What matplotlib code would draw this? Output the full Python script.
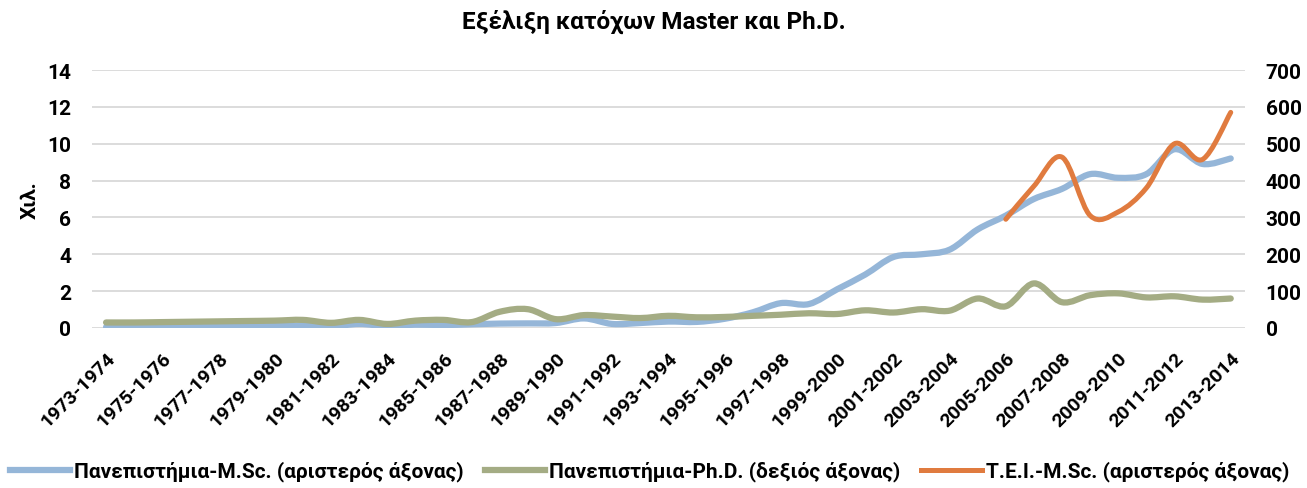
import numpy as np
import matplotlib
matplotlib.use("Agg")
import matplotlib.pyplot as plt
from matplotlib.path import Path
from matplotlib.patches import PathPatch
from matplotlib.lines import Line2D

plt.rcParams['font.family'] = ['Roboto', 'DejaVu Sans']
plt.rcParams['font.weight'] = 'bold'

years = [f"{y}-{y + 1}" for y in range(1973, 2014)]

# Πανεπιστήμια M.Sc. (χιλ., αριστερός άξονας)
msc_uni = [0.05, 0.06, 0.07, 0.08, 0.09, 0.10, 0.12, 0.13, 0.08, 0.22,
           0.10, 0.18, 0.16, 0.20, 0.24, 0.25, 0.27, 0.52, 0.22, 0.27,
           0.35, 0.33, 0.50, 0.85, 1.35, 1.30, 2.10, 2.90, 3.85, 4.00,
           4.25, 5.35, 6.10, 7.00, 7.55, 8.35, 8.15, 8.35, 9.70, 8.90, 9.20]
# Πανεπιστήμια Ph.D. (δεξιός άξονας)
phd_uni = [15, 15, 16, 17, 18, 19, 20, 22, 14, 22,
           11, 20, 22, 16, 44, 51, 24, 35, 31, 27,
           33, 29, 30, 33, 36, 40, 38, 48, 42, 51,
           47, 80, 59, 121, 70, 89, 94, 83, 86, 77, 80]
# Τ.Ε.Ι. M.Sc. (χιλ., αριστερός άξονας) - από 2005-2006
tei_msc = [np.nan] * 32 + [5.9, 7.7, 9.27, 6.1, 6.3, 7.6, 10.0, 9.15, 11.7]

labels = ["Πανεπιστήμια-M.Sc. (αριστερός άξονας)",
          "Πανεπιστήμια-Ph.D. (δεξιός άξονας)",
          "T.E.I.-M.Sc. (αριστερός άξονας)"]
colors = ["#95B6D8", "#A4AC84", "#E07B3F"]


def smooth_path(x, y):
    """Excel-like smoothed line: cubic Bezier through the points (Catmull-Rom tangents)."""
    x = np.asarray(x, float); y = np.asarray(y, float)
    ok = ~np.isnan(y); x, y = x[ok], y[ok]
    p = np.column_stack([x, y])
    ext = np.vstack([p[0], p, p[-1]])
    verts = [p[0]]; codes = [Path.MOVETO]
    for i in range(len(p) - 1):
        p0, p1, p2, p3 = ext[i], ext[i + 1], ext[i + 2], ext[i + 3]
        verts += [p1 + (p2 - p0) / 6, p2 - (p3 - p1) / 6, p2]
        codes += [Path.CURVE4] * 3
    return Path(verts, codes)


xs = np.arange(len(years))

fig = plt.figure(figsize=(13.07, 4.89), dpi=100)
ax = fig.add_axes([0.0704, 0.3272, 0.882, 0.5276])
ax2 = ax.twinx()

ax.add_patch(PathPatch(smooth_path(xs, msc_uni), fill=False, ec=colors[0], lw=4.5,
                       capstyle="round", joinstyle="round", zorder=3))
ax.add_patch(PathPatch(smooth_path(xs, tei_msc), fill=False, ec=colors[2], lw=3.6,
                       capstyle="round", joinstyle="round", zorder=4))
ax2.add_patch(PathPatch(smooth_path(xs, phd_uni), fill=False, ec=colors[1], lw=4.5,
                        capstyle="round", joinstyle="round", zorder=3))

ax.set_xlim(-0.5, len(years) - 0.5)
ax.set_ylim(0, 14)
ax2.set_ylim(0, 700)
ax.set_yticks(range(0, 15, 2))
ax2.set_yticks(range(0, 701, 100))
ax.set_xticks(xs[::2])
ax.set_xticklabels(years[::2], rotation=45, ha="right", rotation_mode="anchor",
                   fontsize=14, fontweight="bold")
for a in (ax, ax2):
    for s in a.spines.values():
        s.set_visible(False)
    a.tick_params(length=0, labelsize=15)
    for t in a.get_yticklabels():
        t.set_fontweight("bold")
ax.tick_params(axis="x", pad=15, labelsize=14)
ax.tick_params(axis="y", pad=15)
ax2.tick_params(axis="y", pad=15)
ax.yaxis.grid(True, color="#D9D9D9", lw=1.3)
ax.set_axisbelow(True)
ax.set_ylabel("Χιλ.", fontsize=15, fontweight="bold", labelpad=5)

fig.suptitle("Εξέλιξη κατόχων Master και Ph.D.", fontsize=17.5, fontweight="bold", y=0.98)

handles = [Line2D([], [], color=c, lw=4.5 if i < 2 else 3.6) for i, c in enumerate(colors)]
fig.legend(handles, labels, loc="lower center", bbox_to_anchor=(0.497, -0.025), ncol=3,
           frameon=False, handlelength=2.9, handletextpad=0.2, columnspacing=1.0,
           prop={"weight": "bold", "size": 15})

fig.savefig("out.png", dpi=100)
